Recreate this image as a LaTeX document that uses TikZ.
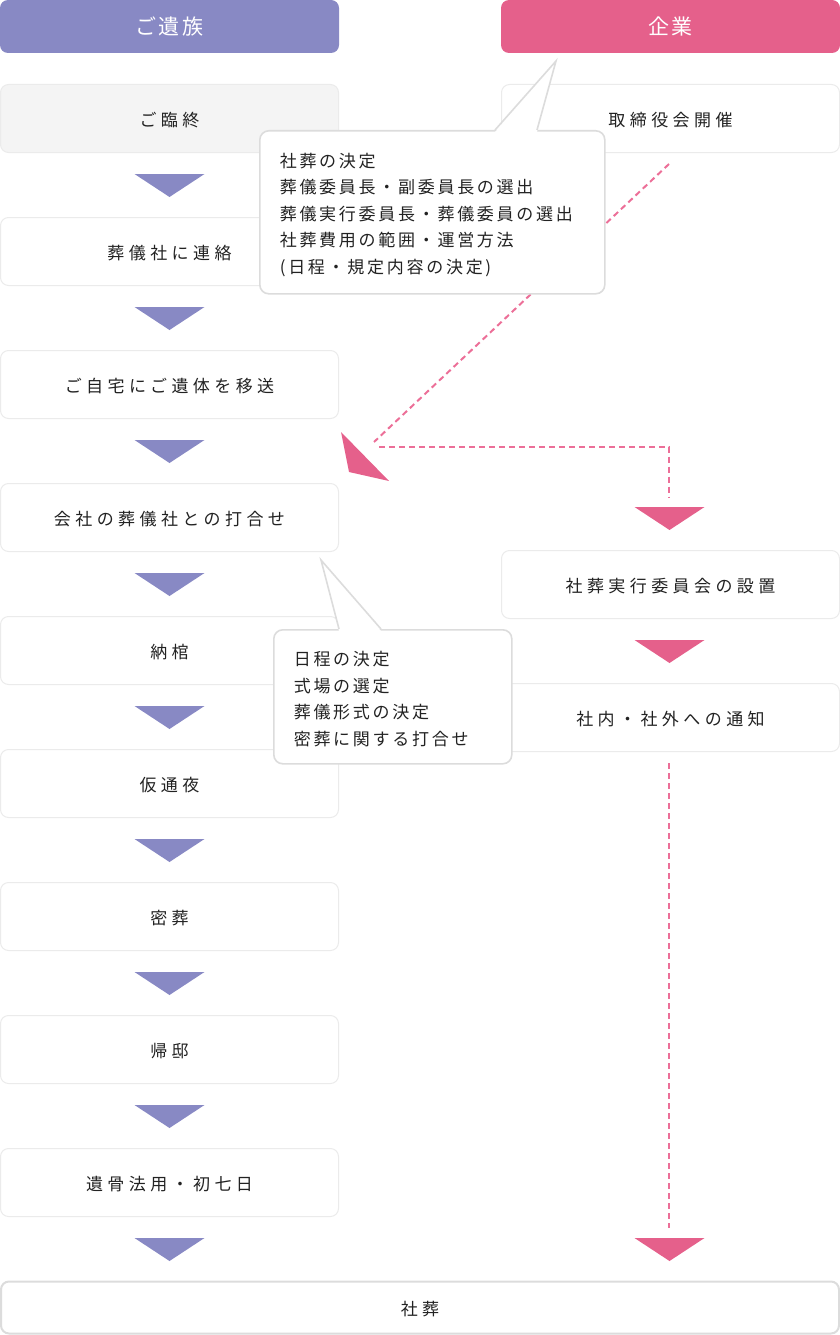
\documentclass[tikz,border=0pt]{standalone}
\usepackage{fontspec}
\setmainfont{Noto Sans CJK JP}
\newfontfamily\boxfont[LetterSpace=26]{Noto Sans CJK JP}
\newfontfamily\callfont[LetterSpace=16]{Noto Sans CJK JP}
\newfontfamily\headfont[LetterSpace=14]{Noto Sans CJK JP}
\usetikzlibrary{calc}
\definecolor{purp}{HTML}{8889C4}
\definecolor{pinkc}{HTML}{E5608B}
\definecolor{dashpink}{HTML}{EC6F98}
\definecolor{boxline}{HTML}{EBEBEB}
\definecolor{callline}{HTML}{DCDCDC}
\definecolor{firstfill}{HTML}{F4F4F4}
\definecolor{txt}{HTML}{222222}
\newcommand\downtri[3]{\fill[#1] ($(#2)+(-35,#3)$) -- ++(70,0) -- ++(-35,23) -- cycle;}
\begin{document}
\begin{tikzpicture}[x=1pt,y=-1pt,
  head/.style={fill=#1, rounded corners=8pt, minimum width=339pt, minimum height=53pt, inner sep=0pt, text=white, font=\headfont\fontsize{21}{24}\selectfont},
  stepbox/.style={draw=boxline, line width=1pt, fill=white, rounded corners=8pt, minimum width=338pt, minimum height=68pt, inner sep=0pt, text height=16pt, text depth=0pt, text=txt, font=\boxfont\fontsize{17}{20}\selectfont},
  finalbox/.style={draw=callline, line width=2pt, fill=white, rounded corners=8pt, minimum width=838pt, minimum height=52pt, inner sep=0pt, text height=16pt, text depth=0pt, text=txt, font=\boxfont\fontsize{17}{20}\selectfont},
  callout/.style={draw=callline, line width=1.6pt, fill=white, rounded corners=9pt, anchor=north west, inner xsep=20pt, inner ysep=0pt, align=left, text=txt, font=\callfont\fontsize{17}{26.5}\selectfont},
  tailline/.style={draw=callline, line width=1.6pt, line join=miter},
  dsh/.style={draw=dashpink, line width=2pt, dash pattern=on 6pt off 4pt}
]
\useasboundingbox (0,0) rectangle (840,1335);

% headers
\node[head=purp] (h1) at (169.5,26.5) {\raisebox{-3pt}{ご遺族}};
\node[head=pinkc] (h2) at (670.5,26.5) {\raisebox{-3pt}{企業}};

% left column
\node[stepbox, fill=firstfill] (b1) at (169.5,118.5) {ご臨終};
\node[stepbox] (b2) at (169.5,251.5) {葬儀社に連絡};
\node[stepbox] (b3) at (169.5,384.5) {ご自宅にご遺体を移送};
\node[stepbox] (b4) at (169.5,517.5) {会社の葬儀社との打合せ};
\node[stepbox] (b5) at (169.5,650.5) {納棺};
\node[stepbox] (b6) at (169.5,783.5) {仮通夜};
\node[stepbox] (b7) at (169.5,916.5) {密葬};
\node[stepbox] (b8) at (169.5,1049.5) {帰邸};
\node[stepbox] (b9) at (169.5,1182.5) {遺骨法用・初七日};

% right column
\node[stepbox] (r1) at (670.5,118.5) {取締役会開催};
\node[stepbox] (r2) at (670.5,584.5) {社葬実行委員会の設置};
\node[stepbox] (r3) at (670.5,717.5) {社内・社外への通知};

% final
\node[finalbox] (fin) at (420,1307.5) {社葬};

% purple arrows
\foreach \b in {b1,b2,b3,b4,b5,b6,b7,b8,b9}{
  \downtri{purp}{\b.south}{21}
}

% dashed connectors
\coordinate (d1) at (669,164);
\coordinate (d2) at (374,442);
\coordinate (d3) at (379,446.5);
\coordinate (d4) at (669,497);
\coordinate (d5) at (669,763);
\coordinate (d6) at (669,1228);
\draw[dsh] (d1) -- (d2);
\draw[dsh] (d3) -| (d4);
\draw[dsh] (d5) -- (d6);

% pink arrows
\coordinate (p1) at (669.5,507);
\coordinate (p2) at (669.5,640);
\coordinate (p3) at (669.5,1238);
\downtri{pinkc}{p1}{0}
\downtri{pinkc}{p2}{0}
\downtri{pinkc}{p3}{0}
\fill[pinkc] (341,432) -- (349,472) -- (389,481) -- cycle;

% callout 1
\node[callout, minimum width=345pt, minimum height=163pt, text width=305pt] (c1) at (259,130)
  {\rule{0pt}{19pt}社葬の決定\\葬儀委員長・副委員長の選出\\葬儀実行委員長・葬儀委員の選出\\社葬費用の範囲・運営方法\\(日程・規定内容の決定)};
\fill[white] (495,132) -- (556,61) -- (537,132) -- cycle;
\draw[tailline] (495,130) -- (556,61) -- (537,130);

% callout 2
\node[callout, minimum width=238pt, minimum height=134pt, text width=198pt] (c2) at (273,629)
  {\rule{0pt}{19pt}日程の決定\\式場の選定\\葬儀形式の決定\\密葬に関する打合せ};
\fill[white] (339,631) -- (321,560) -- (381,631) -- cycle;
\draw[tailline] (339,629) -- (321,560) -- (381,629);
\end{tikzpicture}
\end{document}
